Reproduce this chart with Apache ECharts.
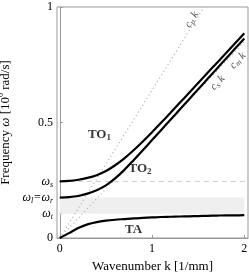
<!DOCTYPE html>
<html><head><meta charset="utf-8">
<script src="https://cdn.jsdelivr.net/npm/echarts@6/dist/echarts.min.js"></script>
<style>html,body{margin:0;padding:0;background:#fff}#c{width:249px;height:275px}</style>
</head><body><div id="c"></div>
<script>
// wavenumber samples [1/mm]
const k   = [0,0.1,0.2,0.3,0.4,0.5,0.6,0.7,0.8,0.9,1.0,1.1,1.2,1.3,1.4,1.5,1.6,1.7,1.8,1.9,2.0];
// frequency branches [10^6 rad/s]
const TA  = [0,0.021,0.043,0.059,0.069,0.075,0.079,0.082,0.085,0.087,0.089,0.091,0.092,0.093,0.094,0.095,0.096,0.097,0.098,0.098,0.099];
const TO2 = [0.175,0.177,0.182,0.192,0.207,0.228,0.258,0.295,0.337,0.380,0.424,0.468,0.512,0.556,0.600,0.644,0.688,0.732,0.776,0.820,0.864];
const TO1 = [0.245,0.247,0.252,0.260,0.272,0.290,0.315,0.345,0.380,0.418,0.458,0.500,0.542,0.585,0.628,0.671,0.714,0.757,0.800,0.843,0.886];
// characteristic frequencies and wave speeds
const omegaT = 0.105, omegaL = 0.175, omegaS = 0.245;
const cP = 0.64, cS = 0.425;
const xTickValues = [0,1,2];
const yTickValues = [0,0.5,1];
const xMin = -0.03, xMax = 2.04;

const pairs = arr => k.map((x,i)=>[x,arr[i]]);
const serif = 'Liberation Serif';

const yLabelMap = v => {
  const near = a => Math.abs(v-a) < 1e-6;
  if (near(omegaT)) return '{w|ω}{s|t}';
  if (near(omegaL)) return '{w|ω}{s|l}{w|=ω}{s|r}';
  if (near(omegaS)) return '{w|ω}{s|s}';
  return '{n|' + (v===0?'0':String(v)) + '}';
};

const annotations = [
  {text:'{b|TO}{bs|1}', x:0.43, y:0.447, rot:0},
  {text:'{b|TO}{bs|2}', x:0.87, y:0.30, rot:0},
  {text:'{b|TA}', x:0.80, y:0.035, rot:0},
  {text:'{i|c}{is|p}{i| k}', x:1.43, y:0.945, rot:58},
  {text:'{i|c}{is|s}{i| k}', x:1.71, y:0.672, rot:47},
  {text:'{i|c}{is|m}{i| k}', x:1.93, y:0.768, rot:47}
];

const rich = {
  b:{fontFamily:serif,fontWeight:'bold',fontSize:13,color:'#000',lineHeight:15},
  bs:{fontFamily:serif,fontWeight:'bold',fontSize:9,color:'#000',lineHeight:15,verticalAlign:'bottom'},
  i:{fontFamily:serif,fontStyle:'italic',fontSize:11,color:'#222',lineHeight:13},
  is:{fontFamily:serif,fontStyle:'italic',fontSize:8,color:'#222',lineHeight:13,verticalAlign:'bottom'}
};

const chart = echarts.init(document.getElementById('c'));
chart.setOption({
  animation:false,
  grid:{left:57,right:1,top:7,bottom:37,show:true,borderColor:'#999',borderWidth:1,outerBoundsMode:'none',containLabel:false},
  xAxis:{type:'value',min:xMin,max:xMax,
    name:'Wavenumber k [1/mm]',nameLocation:'middle',nameGap:18,
    nameTextStyle:{fontFamily:serif,fontSize:13,color:'#000'},
    axisLine:{lineStyle:{color:'#999'}},
    axisTick:{inside:true,length:3,customValues:xTickValues,lineStyle:{color:'#999'}},
    axisLabel:{customValues:xTickValues,fontFamily:serif,fontSize:12,color:'#000',margin:5},
    splitLine:{show:false}},
  yAxis:{type:'value',min:0,max:1,
    name:'{t|Frequency }{i|ω}{t| [10}{sup|6}{t| rad/s]}',nameLocation:'middle',nameGap:40,nameRotate:90,
    nameTextStyle:{rich:{t:{fontFamily:serif,fontSize:13,color:'#000'},i:{fontFamily:serif,fontStyle:'italic',fontSize:13,color:'#000'},sup:{fontFamily:serif,fontSize:8,color:'#000',verticalAlign:'top',lineHeight:16}}},
    axisLine:{lineStyle:{color:'#999'}},
    axisTick:{inside:true,length:3,customValues:yTickValues.concat([omegaT,omegaL,omegaS]),lineStyle:{color:'#999'}},
    axisLabel:{customValues:yTickValues.concat([omegaT,omegaL,omegaS]),formatter:yLabelMap,margin:4,
      rich:{n:{fontFamily:serif,fontSize:12,color:'#000'},
            w:{fontFamily:serif,fontStyle:'italic',fontSize:12,color:'#000',lineHeight:14},
            s:{fontFamily:serif,fontStyle:'italic',fontSize:8,color:'#000',lineHeight:14,verticalAlign:'bottom'}}},
    splitLine:{show:false}},
  series:[
    {type:'line',data:[],silent:true,markArea:{silent:true,itemStyle:{color:'#efefef'},
      data:[[{xAxis:0,yAxis:omegaT},{xAxis:k[k.length-1],yAxis:omegaL}]]}},
    {type:'line',data:[[0,omegaS],[xMax,omegaS]],symbol:'none',lineStyle:{color:'#ccc',width:1,type:[5,4]}},
    {type:'line',data:[[0,0],[1/cP,1]],symbol:'none',lineStyle:{color:'#aaa',width:1.2,type:[1,3]}},
    {type:'line',data:[[0,0],[2,2*cS]],symbol:'none',lineStyle:{color:'#aaa',width:1.2,type:[1,3]}},
    {type:'line',data:pairs(TA),symbol:'none',smooth:0.3,lineStyle:{color:'#000',width:2.2}},
    {type:'line',data:pairs(TO2),symbol:'none',smooth:0.3,lineStyle:{color:'#000',width:2.2}},
    {type:'line',data:pairs(TO1),symbol:'none',smooth:0.3,lineStyle:{color:'#000',width:2.2}},
    {type:'scatter',symbolSize:0,silent:true,
      data:annotations.map(a=>({value:[a.x,a.y],label:{show:true,formatter:a.text,rotate:a.rot,position:'inside',rich:rich}}))}
  ]
});
</script></body></html>
